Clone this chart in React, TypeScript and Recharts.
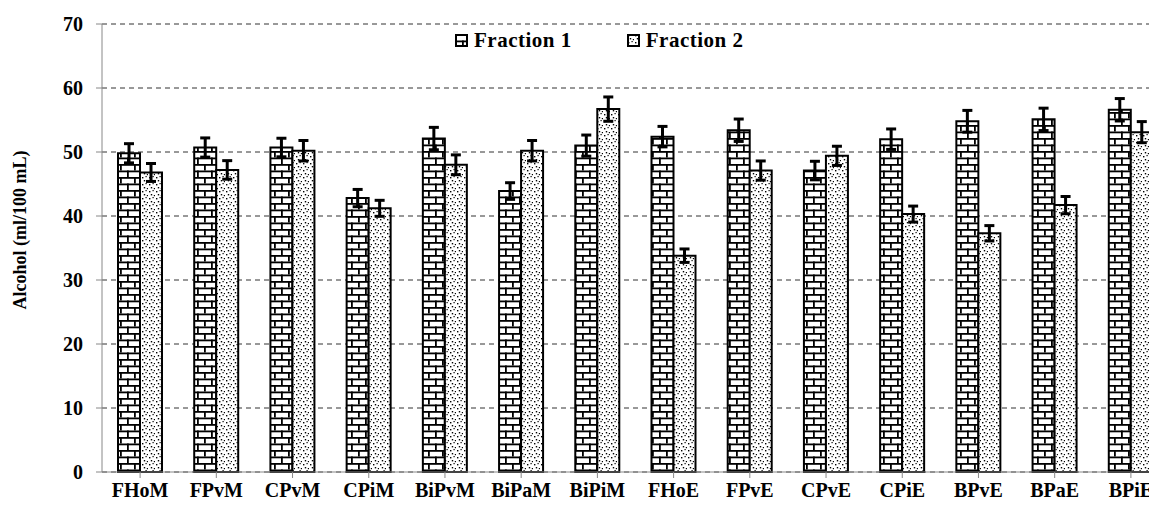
import React from 'react';
import {
    BarChart,
    Bar,
    XAxis,
    YAxis,
    CartesianGrid,
    Legend,
    ErrorBar
} from 'recharts';

const categories = ['FHoM', 'FPvM', 'CPvM', 'CPiM', 'BiPvM', 'BiPaM', 'BiPiM', 'FHoE', 'FPvE', 'CPvE', 'CPiE', 'BPvE', 'BPaE', 'BPiE'];
const fraction1 = [49.8, 50.7, 50.7, 42.8, 52.1, 43.9, 51.0, 52.4, 53.4, 47.1, 52.0, 54.8, 55.1, 56.6];
const fraction2 = [46.8, 47.2, 50.2, 41.2, 48.0, 50.2, 56.7, 33.8, 47.1, 49.4, 40.3, 37.3, 41.7, 53.1];
const fraction1Err = [1.5, 1.5, 1.45, 1.35, 1.75, 1.3, 1.65, 1.6, 1.75, 1.45, 1.6, 1.7, 1.75, 1.75];
const fraction2Err = [1.4, 1.45, 1.6, 1.25, 1.55, 1.6, 1.9, 1.05, 1.5, 1.5, 1.25, 1.2, 1.35, 1.65];
const yTicks = [0, 10, 20, 30, 40, 50, 60, 70];

const data = categories.map((name, i) => ({
    name,
    f1: fraction1[i],
    f2: fraction2[i],
    f1err: fraction1Err[i],
    f2err: fraction2Err[i],
}));

const FONT = '"Liberation Serif", "Times New Roman", serif';

const series = [
    { key: 'f1', name: 'Fraction 1', fill: 'url(#brick)' },
    { key: 'f2', name: 'Fraction 2', fill: 'url(#dots)' },
];

const CustomLegend = () => (
    <div style={{ display: 'flex', alignItems: 'center', fontFamily: FONT, fontWeight: 'bold', fontSize: 21, letterSpacing: 0.5, color: '#000', lineHeight: '24px' }}>
        {series.map((s, i) => (
            <div key={s.key} style={{ display: 'flex', alignItems: 'center', marginRight: i === 0 ? 55 : 0 }}>
                <svg width={13} height={13} style={{ marginRight: 6 }}>
                    <rect x={1} y={1} width={11} height={11} fill={s.fill} stroke="#000" strokeWidth={2} />
                </svg>
                <span>{s.name}</span>
            </div>
        ))}
    </div>
);

const YLabel = (props: any) => {
    const { viewBox } = props;
    const cx = viewBox.x + 12;
    const cy = viewBox.y + viewBox.height / 2 - 18;
    return (
        <text x={cx} y={cy} transform={`rotate(-90, ${cx}, ${cy})`} textAnchor="middle" dominantBaseline="central"
            fontFamily={FONT} fontWeight="bold" fontSize={18} fill="#000">
            Alcohol (ml/100 mL)
        </text>
    );
};

const tickStyle = { fontFamily: FONT, fontWeight: 'bold', fontSize: 20, fill: '#000' };

export default function App() {
    return (
        <div style={{ width: 1149, height: 498, overflow: 'hidden' }}>
            <BarChart
                width={1171}
                height={498}
                data={data}
                margin={{ top: 16, right: 10, left: 0, bottom: 0 }}
                barGap={0}
                barSize={22}
            >
                <defs>
                    <pattern id="brick" patternUnits="userSpaceOnUse" width={14} height={13}>
                        <rect x={0} y={0} width={14} height={13} fill="#fff" />
                        <line x1={0} y1={0.9} x2={14} y2={0.9} stroke="#000" strokeWidth={1.8} />
                        <line x1={0} y1={7.4} x2={14} y2={7.4} stroke="#000" strokeWidth={1.8} />
                        <line x1={0.9} y1={0} x2={0.9} y2={6.5} stroke="#000" strokeWidth={1.8} />
                        <line x1={7.9} y1={6.5} x2={7.9} y2={13} stroke="#000" strokeWidth={1.8} />
                    </pattern>
                    <pattern id="dots" patternUnits="userSpaceOnUse" width={7} height={7}>
                        <rect x={0} y={0} width={7} height={7} fill="#fff" />
                        <rect x={1} y={1} width={1.4} height={1.4} fill="#000" />
                        <rect x={4.5} y={0} width={1.2} height={1.2} fill="#000" />
                        <rect x={2.8} y={4} width={1.4} height={1.4} fill="#000" />
                        <rect x={5.8} y={5} width={1.2} height={1.2} fill="#000" />
                    </pattern>
                </defs>
                <CartesianGrid vertical={false} stroke="#333" strokeDasharray="5 4" strokeWidth={1} />
                <XAxis
                    dataKey="name"
                    height={34}
                    stroke="#888"
                    tickSize={6}
                    tickMargin={5}
                    interval={0}
                    tick={tickStyle}
                />
                <YAxis
                    width={94}
                    domain={[0, 70]}
                    ticks={yTicks}
                    interval={0}
                    stroke="#888"
                    tickSize={6}
                    tickMargin={13}
                    tick={tickStyle}
                    label={<YLabel />}
                />
                <Legend
                    layout="horizontal"
                    verticalAlign="middle"
                    align="center"
                    wrapperStyle={{ top: 20, left: 447, width: 'auto' }}
                    content={<CustomLegend />}
                />
                {series.map(s => (
                    <Bar
                        key={s.key}
                        dataKey={s.key}
                        name={s.name}
                        fill={s.fill}
                        stroke="#000"
                        strokeWidth={2}
                        isAnimationActive={false}
                    >
                        <ErrorBar dataKey={`${s.key}err`} width={5} stroke="#000" strokeWidth={3} direction="y" />
                    </Bar>
                ))}
            </BarChart>
        </div>
    );
}
